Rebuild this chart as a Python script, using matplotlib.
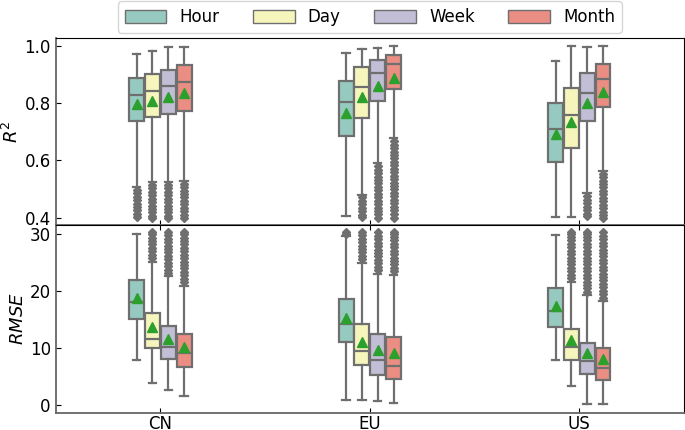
import matplotlib
matplotlib.use("Agg")
import matplotlib.pyplot as plt
from matplotlib.patches import Patch
import seaborn as sns

categories = ["CN", "EU", "US"]
hues = ["Hour", "Day", "Week", "Month"]

# ---- R^2 statistics: rows = Hour, Day, Week, Month ; cols = CN, EU, US
r2_whishi = [[0.971, 0.976, 0.948], [0.983, 0.988, 0.998], [0.997, 0.993, 0.997], [0.995, 0.998, 0.999]]
r2_q3 = [[0.886, 0.878, 0.799], [0.900, 0.925, 0.851], [0.916, 0.952, 0.904], [0.934, 0.968, 0.936]]
r2_med = [[0.828, 0.804, 0.709], [0.843, 0.857, 0.758], [0.859, 0.906, 0.836], [0.873, 0.936, 0.884]]
r2_q1 = [[0.737, 0.685, 0.593], [0.750, 0.748, 0.644], [0.761, 0.808, 0.737], [0.772, 0.849, 0.787]]
r2_mean = [[0.797, 0.766, 0.691], [0.808, 0.820, 0.735], [0.822, 0.859, 0.801], [0.836, 0.886, 0.839]]
r2_whislo = [[0.508, 0.406, 0.403], [0.525, 0.481, 0.403], [0.525, 0.590, 0.485], [0.529, 0.677, 0.564]]
r2_fliers = [
    [[0.498, 0.486, 0.474, 0.462, 0.450, 0.438, 0.426, 0.414, 0.402], [], []],
    [[0.515, 0.503, 0.491, 0.479, 0.467, 0.455, 0.443, 0.431, 0.419, 0.407, 0.400],
     [0.471, 0.459, 0.447, 0.435, 0.423, 0.411, 0.402], []],
    [[0.515, 0.503, 0.491, 0.479, 0.467, 0.455, 0.443, 0.431, 0.419, 0.407, 0.400],
     [0.580, 0.568, 0.556, 0.544, 0.532, 0.520, 0.508, 0.496, 0.484, 0.472, 0.460, 0.448, 0.436, 0.424, 0.412, 0.400],
     [0.475, 0.463, 0.451, 0.439, 0.427, 0.415, 0.405]],
    [[0.519, 0.507, 0.495, 0.483, 0.471, 0.459, 0.447, 0.435, 0.423, 0.411, 0.400],
     [0.667, 0.655, 0.643, 0.631, 0.619, 0.607, 0.595, 0.583, 0.571, 0.559, 0.547, 0.535, 0.523, 0.511,
      0.499, 0.487, 0.475, 0.463, 0.451, 0.439, 0.427, 0.415, 0.400],
     [0.554, 0.542, 0.530, 0.518, 0.506, 0.494, 0.482, 0.470, 0.458, 0.446, 0.434, 0.422, 0.410, 0.400]],
]

# ---- RMSE statistics
rmse_whishi = [[29.9, 29.5, 29.8], [25.1, 24.9, 21.6], [22.5, 23.0, 19.2], [20.9, 22.8, 18.2]]
rmse_q3 = [[21.8, 18.6, 20.4], [16.1, 14.2, 13.3], [13.9, 12.5, 10.9], [12.5, 11.9, 9.9]]
rmse_med = [[18.0, 14.2, 16.5], [11.5, 9.5, 10.1], [10.2, 7.8, 7.7], [9.1, 6.9, 6.4]]
rmse_q1 = [[15.0, 11.1, 13.7], [9.9, 7.0, 7.8], [8.0, 5.3, 5.4], [6.6, 4.5, 4.4]]
rmse_mean = [[18.7, 15.2, 17.4], [13.6, 11.1, 11.3], [11.6, 9.6, 9.1], [10.1, 9.1, 8.0]]
rmse_whislo = [[7.8, 0.9, 7.9], [3.9, 0.9, 3.4], [2.6, 0.75, 0.2], [1.5, 0.3, 0.2]]
rmse_fliers = [
    [[], [30.0, 30.3], []],
    [[25.7, 26.3, 26.9, 27.5, 28.1, 28.7, 29.3, 29.9, 30.3],
     [25.5, 26.1, 26.7, 27.3, 27.9, 28.5, 29.1, 29.7, 30.3],
     [22.2, 22.8, 23.4, 24.0, 24.6, 25.2, 25.8, 26.4, 27.0, 27.6, 28.2, 28.8, 29.4, 30.0, 30.3]],
    [[23.1, 23.7, 24.3, 24.9, 25.5, 26.1, 26.7, 27.3, 27.9, 28.5, 29.1, 29.7, 30.3],
     [23.6, 24.2, 24.8, 25.4, 26.0, 26.6, 27.2, 27.8, 28.4, 29.0, 29.6, 30.3],
     [19.8, 20.4, 21.0, 21.6, 22.2, 22.8, 23.4, 24.0, 24.6, 25.2, 25.8, 26.4, 27.0, 27.6, 28.2, 28.8, 29.4, 30.0, 30.3]],
    [[21.5, 22.1, 22.7, 23.3, 23.9, 24.5, 25.1, 25.7, 26.3, 26.9, 27.5, 28.1, 28.7, 29.3, 29.9, 30.3],
     [23.4, 24.0, 24.6, 25.2, 25.8, 26.4, 27.0, 27.6, 28.2, 28.8, 29.4, 30.0, 30.3],
     [18.8, 19.4, 20.0, 20.6, 21.2, 21.8, 22.4, 23.0, 23.6, 24.2, 24.8, 25.4, 26.0, 26.6, 27.2, 27.8, 28.4,
      29.0, 29.6, 30.3]],
]

colors = [sns.desaturate(c, 0.75) for c in sns.color_palette("Set3", 4)]
line_col = "#6f6f6f"
plt.rcParams["font.family"] = ["DejaVu Sans"]

fig = plt.figure(figsize=(6.85, 4.3), dpi=100)
ax1 = fig.add_axes([0.0813, 0.4767, 0.9172, 0.4356])
ax2 = fig.add_axes([0.0813, 0.0402, 0.9172, 0.4365])

step = 0.0755
bw = 0.071


def draw(ax, whislo, q1, med, q3, whishi, mean, fliers):
    for h in range(4):
        stats = []
        pos = []
        for c in range(3):
            stats.append(dict(whislo=whislo[h][c], q1=q1[h][c], med=med[h][c], q3=q3[h][c],
                              whishi=whishi[h][c], mean=mean[h][c], fliers=fliers[h][c]))
            pos.append(c + (h - 1.5) * step)
        ax.bxp(stats, positions=pos, widths=bw, patch_artist=True, showmeans=True,
               manage_ticks=False,
               boxprops=dict(facecolor=colors[h], edgecolor=line_col, linewidth=1.6),
               medianprops=dict(color=line_col, linewidth=1.6),
               whiskerprops=dict(color=line_col, linewidth=1.6),
               capprops=dict(color=line_col, linewidth=1.6),
               flierprops=dict(marker="D", markersize=4.2, markerfacecolor=line_col,
                               markeredgecolor=line_col, linestyle="none"),
               meanprops=dict(marker="^", markersize=7, markerfacecolor="#2ca02c",
                              markeredgecolor="#2ca02c"))
    ax.set_xlim(-0.5, 2.5)
    ax.set_xticks(range(3))
    ax.tick_params(axis="both", direction="in", labelsize=12)
    ax.tick_params(axis="x", pad=2)
    for s in ["left", "bottom"]:
        ax.spines[s].set_color("#666666")
        ax.spines[s].set_linewidth(1.3)


draw(ax1, r2_whislo, r2_q1, r2_med, r2_q3, r2_whishi, r2_mean, r2_fliers)
draw(ax2, rmse_whislo, rmse_q1, rmse_med, rmse_q3, rmse_whishi, rmse_mean, rmse_fliers)

ax1.set_ylim(0.375, 1.028)
ax1.set_yticks([0.4, 0.6, 0.8, 1.0])
ax1.set_xticklabels([])
ax2.set_ylim(-1.35, 31.5)
ax2.set_yticks([0, 10, 20, 30])
ax2.set_xticklabels(categories)
ax2.tick_params(axis="x", top=True)

ax1.set_ylabel("$R^2$", fontsize=13, labelpad=2)
ax2.set_ylabel("$RMSE$", fontsize=13, labelpad=2)
fig.align_ylabels([ax1, ax2])

handles = [Patch(facecolor=colors[i], edgecolor=line_col, label=hues[i]) for i in range(4)]
ax1.legend(handles=handles, loc="lower center", bbox_to_anchor=(0.5, 1.0), ncol=4,
           fontsize=12, handlelength=2.5, handleheight=0.8, columnspacing=2.0,
           borderaxespad=0.3, frameon=True)

fig.savefig("out.png", dpi=100)
